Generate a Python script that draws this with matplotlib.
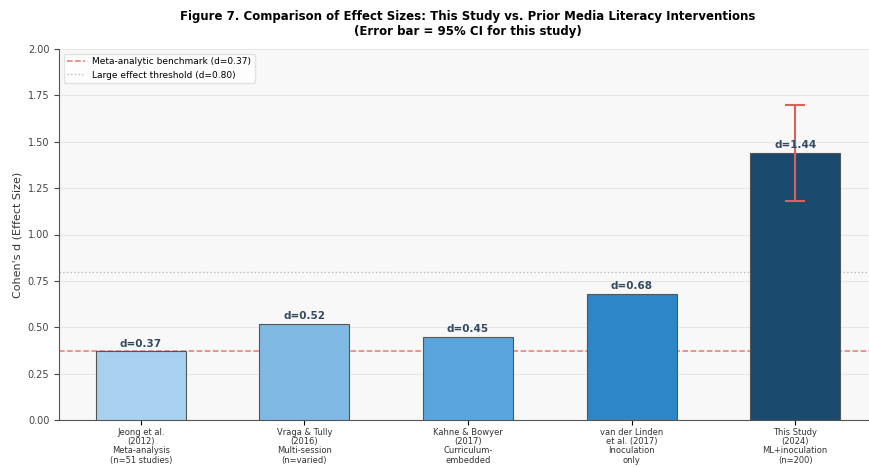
import numpy as np
import matplotlib.pyplot as plt

# Effect sizes from this study and prior interventions
studies = ["Jeong et al.\n(2012)\nMeta-analysis\n(n=51 studies)",
           "Vraga & Tully\n(2016)\nMulti-session\n(n=varied)",
           "Kahne & Bowyer\n(2017)\nCurriculum-\nembedded",
           "van der Linden\net al. (2017)\nInoculation\nonly",
           "This Study\n(2024)\nML+inoculation\n(n=200)"]
effect_d = [0.37, 0.52, 0.45, 0.68, 1.44]
ci_low, ci_high = 1.18, 1.70
benchmark = 0.37
large_effect = 0.80
colors = ["#a8d0ef", "#80b9e3", "#5aa5dd", "#2d86c7", "#1a4a6e"]

fig = plt.figure(figsize=(8.7, 4.67), dpi=100)
ax = fig.add_axes([59/870, 47/467, 818/870, 371/467])
ax.set_facecolor("#f8f8f8")

x = np.arange(len(studies))
ax.bar(x, effect_d, width=0.55, color=colors, edgecolor="#555555", linewidth=0.8, zorder=3)

# error bar for this study only
ax.errorbar(x[-1], effect_d[-1], yerr=[[effect_d[-1] - ci_low], [ci_high - effect_d[-1]]],
            fmt="none", ecolor="#dc5f5a", elinewidth=1.5, capsize=7, capthick=1.5, zorder=4)

for xi, d in zip(x, effect_d):
    ax.text(xi, d + 0.015, f"d={d:.2f}", ha="center", va="bottom", fontsize=7.5,
            fontweight="bold", color="#34495e", zorder=5)

ax.axhline(benchmark, color="#e05a4f", linestyle="--", linewidth=1.1, alpha=0.8,
           label=f"Meta-analytic benchmark (d={benchmark:.2f})", zorder=2)
ax.axhline(large_effect, color="#bbbbbb", linestyle=":", linewidth=1.0,
           label=f"Large effect threshold (d={large_effect:.2f})", zorder=2)

ax.set_xlim(-0.5, 4.5)
ax.set_ylim(0, 2.0)
ax.set_yticks(np.arange(0, 2.01, 0.25))
ax.tick_params(axis="y", labelsize=7, colors="#444444")
ax.tick_params(axis="x", pad=2)
ax.set_xticks(x)
ax.set_xticklabels(studies, fontsize=6, color="#333333", linespacing=1.05)
ax.set_ylabel("Cohen's d (Effect Size)", fontsize=8, color="#333333")
ax.yaxis.grid(True, color="#e6e6e6", linewidth=0.8, zorder=0)
ax.set_axisbelow(True)
for s in ["top", "right"]:
    ax.spines[s].set_visible(False)
for s in ["left", "bottom"]:
    ax.spines[s].set_color("#555555")

ax.legend(loc="upper left", fontsize=6.5, frameon=True, framealpha=0.8, edgecolor="#dddddd")
ax.set_title("Figure 7. Comparison of Effect Sizes: This Study vs. Prior Media Literacy Interventions\n"
             "(Error bar = 95% CI for this study)", fontsize=8.5, fontweight="bold", pad=10)

fig.savefig("out.png", dpi=100)
